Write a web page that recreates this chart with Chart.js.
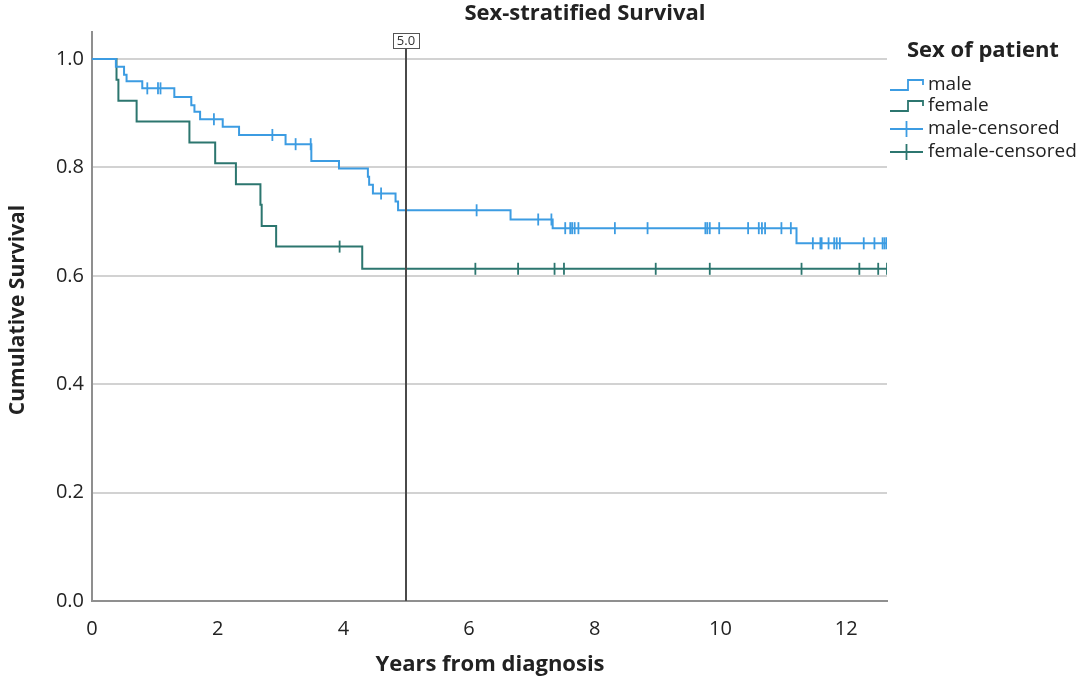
<!DOCTYPE html>
<html>
<head>
<meta charset="utf-8">
<script src="https://cdn.jsdelivr.net/npm/chart.js@4.4.1/dist/chart.umd.min.js"></script>
<style>
  html, body { margin: 0; padding: 0; background: #fff; }
  #wrap { width: 1083px; height: 680px; position: relative; }
</style>
</head>
<body>
<div id="wrap"><canvas id="km"></canvas></div>
<script>
// Kaplan-Meier steps
const maleTimes = [0, 0.38, 0.51, 0.55, 0.80, 1.31, 1.58, 1.63, 1.72, 2.08, 2.34, 3.08, 3.49, 3.93, 4.39, 4.41, 4.47, 4.83, 4.87, 6.66, 7.33, 11.21, 12.64];
const maleSurv  = [1, 0.986, 0.971, 0.959, 0.946, 0.930, 0.915, 0.903, 0.889, 0.875, 0.860, 0.843, 0.812, 0.798, 0.783, 0.768, 0.752, 0.737, 0.721, 0.704, 0.688, 0.660, 0.660];

const femaleTimes = [0, 0.39, 0.42, 0.71, 1.55, 1.96, 2.29, 2.68, 2.70, 2.93, 4.30, 12.66];
const femaleSurv  = [1, 0.962, 0.923, 0.885, 0.846, 0.808, 0.769, 0.731, 0.692, 0.654, 0.613, 0.613];

// censored observations
const maleCensorTimes = [0.88, 1.05, 1.09, 1.94, 2.87, 3.24, 3.48, 4.60, 6.12, 7.10, 7.31,
    7.53, 7.61, 7.64, 7.68, 7.74, 8.32, 8.84, 9.76, 9.79, 9.83, 9.98, 10.44, 10.61, 10.66, 10.71,
    10.97, 11.12, 11.47, 11.59, 11.61, 11.72, 11.81, 11.85, 11.90, 12.28, 12.45, 12.58, 12.61, 12.64];
const maleCensorSurv = [0.946, 0.946, 0.946, 0.889, 0.860, 0.843, 0.843, 0.752, 0.721, 0.704, 0.704,
    0.688, 0.688, 0.688, 0.688, 0.688, 0.688, 0.688, 0.688, 0.688, 0.688, 0.688, 0.688, 0.688, 0.688, 0.688,
    0.688, 0.688, 0.660, 0.660, 0.660, 0.660, 0.660, 0.660, 0.660, 0.660, 0.660, 0.660, 0.660, 0.660];

const femaleCensorTimes = [3.94, 6.10, 6.78, 7.36, 7.51, 8.97, 9.83, 11.29, 12.21, 12.51, 12.65];
const femaleCensorSurv  = [0.654, 0.613, 0.613, 0.613, 0.613, 0.613, 0.613, 0.613, 0.613, 0.613, 0.613];

const xTicks = [0, 2, 4, 6, 8, 10, 12];
const yTicks = [0, 0.2, 0.4, 0.6, 0.8, 1.0];
const refLineX = 5.0;

const legendTitle = 'Sex of patient';
const legendLabels = ['male', 'female', 'male-censored', 'female-censored'];

const COLORS = {
    male: '#3c9ce2',
    female: '#2c766f',
    grid: '#d2d2d2',
    axis: '#8f8f8f',
    text: '#222222',
    ref: '#4a4a4a',
};
const FONT = "'Open Sans', 'Noto Sans', sans-serif";

const toPoints = (xs, ys) => xs.map((x, i) => ({ x, y: ys[i] }));

// titles, reference line and legend drawn on top
const decorations = {
    id: 'decorations',
    afterDatasetsDraw(chart) {
        const { ctx, chartArea, scales } = chart;
        const rx = Math.round(scales.x.getPixelForValue(refLineX));
        ctx.save();
        ctx.strokeStyle = COLORS.ref;
        ctx.lineWidth = 2;
        ctx.beginPath();
        ctx.moveTo(rx, 48);
        ctx.lineTo(rx, chartArea.bottom);
        ctx.stroke();
        // label box
        ctx.fillStyle = '#fff';
        ctx.fillRect(rx - 13, 33, 26, 15);
        ctx.strokeStyle = '#555';
        ctx.lineWidth = 1;
        ctx.strokeRect(rx - 13 + 0.5, 33.5, 26, 15);
        ctx.fillStyle = '#333';
        ctx.font = '13px ' + FONT;
        ctx.textAlign = 'center';
        ctx.textBaseline = 'middle';
        ctx.fillText(refLineX.toFixed(1), rx, 41);
        ctx.restore();
    },
    afterDraw(chart) {
        const { ctx } = chart;
        ctx.save();
        ctx.fillStyle = COLORS.text;
        ctx.textBaseline = 'middle';
        ctx.textAlign = 'center';
        ctx.font = 'bold 22px ' + FONT;
        ctx.fillText('Sex-stratified Survival', 585, 14);
        ctx.fillText('Years from diagnosis', 490, 665);
        ctx.save();
        ctx.translate(18, 310);
        ctx.rotate(-Math.PI / 2);
        ctx.font = 'bold 21px ' + FONT;
        ctx.fillText('Cumulative Survival', 0, 0);
        ctx.restore();

        // legend
        ctx.textAlign = 'left';
        ctx.font = 'bold 22px ' + FONT;
        ctx.fillText(legendTitle, 907, 51);
        ctx.font = '19px ' + FONT;
        const rows = [85, 106, 129, 152];
        const cols = [COLORS.male, COLORS.female, COLORS.male, COLORS.female];
        rows.forEach((y, i) => {
            ctx.strokeStyle = cols[i];
            ctx.lineWidth = 1.8;
            ctx.beginPath();
            if (i < 2) {
                ctx.moveTo(890, y + 5);
                ctx.lineTo(908, y + 5);
                ctx.lineTo(908, y - 5);
                ctx.lineTo(923, y - 5);
                ctx.lineTo(923, y);
            } else {
                ctx.moveTo(890, y);
                ctx.lineTo(923, y);
                ctx.moveTo(906.5, y - 8);
                ctx.lineTo(906.5, y + 8);
            }
            ctx.stroke();
            ctx.fillStyle = COLORS.text;
            ctx.fillText(legendLabels[i], 928, y);
        });
        ctx.restore();
    }
};

const stepLine = (label, pts, color) => ({
    type: 'line',
    label,
    data: pts,
    borderColor: color,
    backgroundColor: color,
    borderWidth: 2,
    stepped: 'before',
    pointRadius: 0,
    fill: false,
});

const censorMarks = (label, pts, color) => ({
    type: 'scatter',
    label,
    data: pts,
    borderColor: color,
    backgroundColor: color,
    pointStyle: 'line',
    rotation: 90,
    pointRadius: 6,
    pointBorderWidth: 1.8,
    showLine: false,
});

new Chart(document.getElementById('km'), {
    data: {
        datasets: [
            stepLine('male', toPoints(maleTimes, maleSurv), COLORS.male),
            stepLine('female', toPoints(femaleTimes, femaleSurv), COLORS.female),
            censorMarks('male-censored', toPoints(maleCensorTimes, maleCensorSurv), COLORS.male),
            censorMarks('female-censored', toPoints(femaleCensorTimes, femaleCensorSurv), COLORS.female),
        ]
    },
    options: {
        responsive: true,
        maintainAspectRatio: false,
        animation: false,
        events: [],
        layout: { padding: { left: 0, top: 32, right: 196, bottom: 0 } },
        plugins: {
            legend: { display: false },
            tooltip: { enabled: false },
        },
        scales: {
            x: {
                type: 'linear',
                min: 0,
                max: 12.65,
                afterBuildTicks: s => { s.ticks = xTicks.map(v => ({ value: v })); },
                afterFit: s => { s.height = 79; },
                grid: { display: false },
                border: { display: true, color: COLORS.axis, width: 2 },
                ticks: {
                    color: COLORS.text,
                    font: { size: 20, family: FONT },
                    padding: 8,
                    maxRotation: 0,
                    callback: v => String(v),
                },
            },
            y: {
                type: 'linear',
                min: 0,
                max: 1.05,
                afterBuildTicks: s => { s.ticks = yTicks.map(v => ({ value: v })); },
                afterFit: s => { s.width = 92; },
                grid: {
                    color: ctx => ctx.tick && ctx.tick.value === 0 ? 'rgba(0,0,0,0)' : COLORS.grid,
                    lineWidth: 2,
                    drawTicks: false,
                },
                border: { display: true, color: COLORS.axis, width: 2 },
                ticks: {
                    color: COLORS.text,
                    font: { size: 20, family: FONT },
                    padding: 8,
                    callback: v => v.toFixed(1),
                },
            },
        },
    },
    plugins: [decorations],
});
</script>
</body>
</html>
